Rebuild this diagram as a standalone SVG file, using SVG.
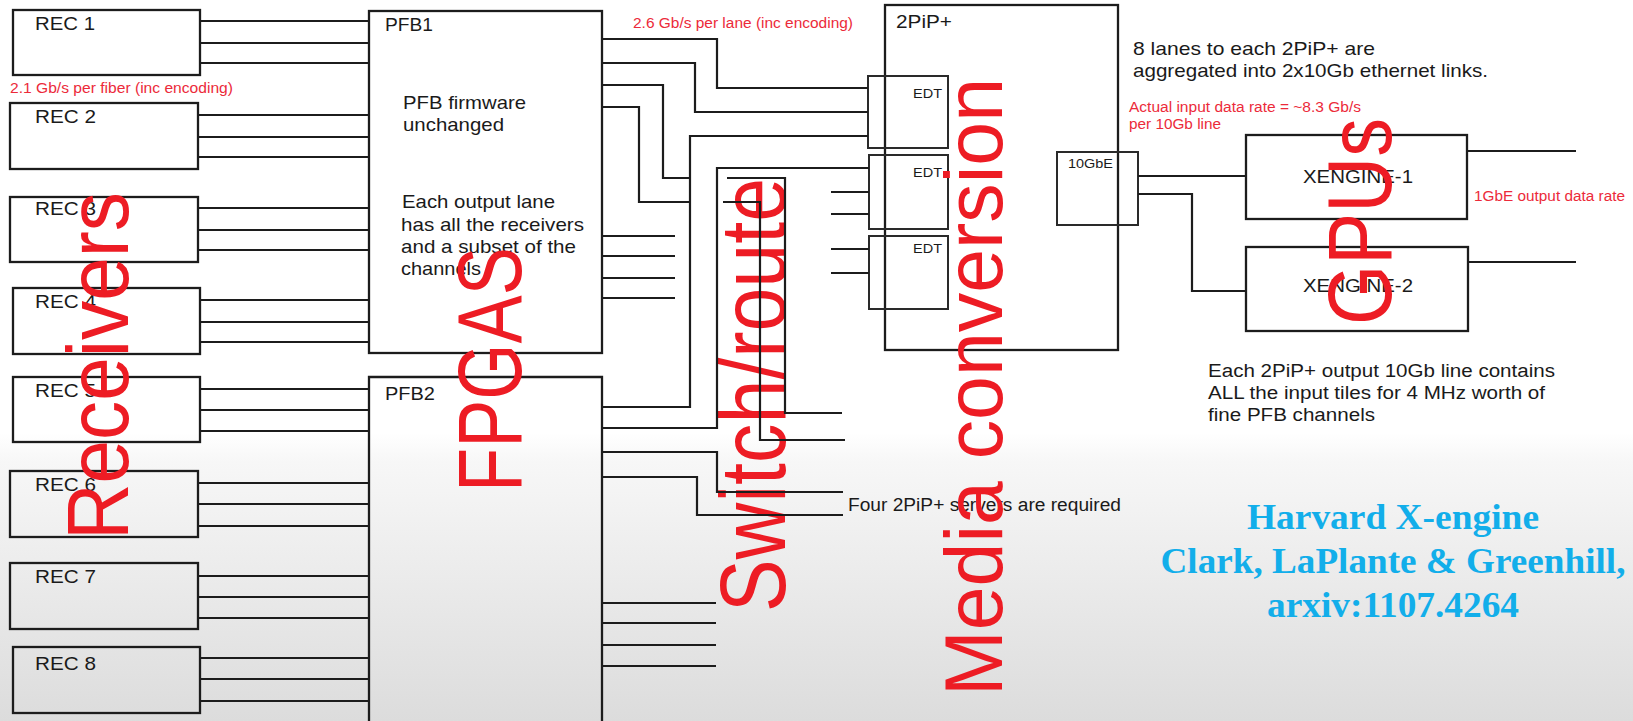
<svg xmlns="http://www.w3.org/2000/svg" width="1633" height="721" viewBox="0 0 1633 721">
<defs>
<linearGradient id="bg" x1="0" y1="0" x2="0" y2="1">
<stop offset="0" stop-color="#ffffff"/>
<stop offset="0.6" stop-color="#ffffff"/>
<stop offset="0.64" stop-color="#f7f7f7"/>
<stop offset="1" stop-color="#dcdcdc"/>
</linearGradient>
</defs>
<style>
.box{fill:none;stroke:#1c1c1c;stroke-width:2.3}
.sbox{fill:none;stroke:#2a2a2a;stroke-width:2}
.ln{fill:none;stroke:#1c1c1c;stroke-width:2.2}
.t{font-family:"Liberation Sans",Arial,sans-serif;fill:#1a1a1a}
.lbl{font-size:19px}
.sm{font-size:13px}
.red{font-family:"Liberation Sans",Arial,sans-serif;fill:#ec2a3a;font-size:14px}
.big{font-family:"Liberation Sans",Arial,sans-serif;fill:#ed1c24}
.blue{font-family:"Liberation Serif","Times New Roman",serif;font-weight:bold;fill:#12aeea;font-size:36px}
</style>
<rect x="0" y="0" width="1633" height="721" fill="url(#bg)"/>

<g id="rec1"><rect class="box" x="13" y="10" width="187" height="65"/><text class="t lbl" x="35" y="30" textLength="60" lengthAdjust="spacingAndGlyphs">REC 1</text></g>
<g id="rec2"><rect class="box" x="10" y="103" width="188" height="66"/><text class="t lbl" x="35" y="123" textLength="61" lengthAdjust="spacingAndGlyphs">REC 2</text></g>
<g id="rec3"><rect class="box" x="10" y="197" width="188" height="65"/><text class="t lbl" x="35" y="215" textLength="61" lengthAdjust="spacingAndGlyphs">REC 3</text></g>
<g id="rec4"><rect class="box" x="13" y="288" width="187" height="66"/><text class="t lbl" x="35" y="308" textLength="61" lengthAdjust="spacingAndGlyphs">REC 4</text></g>
<g id="rec5"><rect class="box" x="13" y="377" width="187" height="65"/><text class="t lbl" x="35" y="397" textLength="61" lengthAdjust="spacingAndGlyphs">REC 5</text></g>
<g id="rec6"><rect class="box" x="10" y="471" width="188" height="66"/><text class="t lbl" x="35" y="491" textLength="61" lengthAdjust="spacingAndGlyphs">REC 6</text></g>
<g id="rec7"><rect class="box" x="10" y="563" width="188" height="66"/><text class="t lbl" x="35" y="583" textLength="61" lengthAdjust="spacingAndGlyphs">REC 7</text></g>
<g id="rec8"><rect class="box" x="13" y="647" width="187" height="66"/><text class="t lbl" x="35" y="670" textLength="61" lengthAdjust="spacingAndGlyphs">REC 8</text></g>

<g id="pfb1">
<rect class="box" x="369" y="11" width="233" height="342"/>
<text class="t lbl" x="385" y="31" textLength="48" lengthAdjust="spacingAndGlyphs">PFB1</text>
<text class="t lbl" x="403" y="109" textLength="123" lengthAdjust="spacingAndGlyphs">PFB firmware</text>
<text class="t lbl" x="403" y="131" textLength="101" lengthAdjust="spacingAndGlyphs">unchanged</text>
<text class="t lbl" x="402" y="208" textLength="153" lengthAdjust="spacingAndGlyphs">Each output lane</text>
<text class="t lbl" x="401" y="231" textLength="183" lengthAdjust="spacingAndGlyphs">has all the receivers</text>
<text class="t lbl" x="401" y="253" textLength="175" lengthAdjust="spacingAndGlyphs">and a subset of the</text>
<text class="t lbl" x="401" y="275" textLength="80" lengthAdjust="spacingAndGlyphs">channels</text>
</g>
<g id="pfb2">
<path class="box" d="M369 740 V377 H602 V740"/>
<text class="t lbl" x="385" y="400" textLength="50" lengthAdjust="spacingAndGlyphs">PFB2</text>
</g>

<g id="pip2">
<rect class="box" x="885" y="5" width="233" height="345"/>
<text class="t lbl" x="896" y="28" textLength="56" lengthAdjust="spacingAndGlyphs">2PiP+</text>
</g>
<g id="edt1"><rect class="sbox" x="868" y="76" width="80" height="72"/><text class="t sm" x="913" y="98" textLength="29" lengthAdjust="spacingAndGlyphs">EDT</text></g>
<g id="edt2"><rect class="sbox" x="869" y="155" width="79" height="74"/><text class="t sm" x="913" y="177" textLength="29" lengthAdjust="spacingAndGlyphs">EDT</text></g>
<g id="edt3"><rect class="sbox" x="869" y="236" width="79" height="73"/><text class="t sm" x="913" y="253" textLength="29" lengthAdjust="spacingAndGlyphs">EDT</text></g>
<g id="tengbe"><rect class="sbox" x="1057" y="152" width="81" height="73"/><text class="t sm" x="1068" y="168" textLength="45" lengthAdjust="spacingAndGlyphs">10GbE</text></g>

<g id="xengine1"><rect class="box" x="1246" y="135" width="221" height="84"/><text class="t lbl" x="1358" y="183" text-anchor="middle" textLength="110" lengthAdjust="spacingAndGlyphs">XENGINE-1</text></g>
<g id="xengine2"><rect class="box" x="1246" y="247" width="222" height="84"/><text class="t lbl" x="1358" y="292" text-anchor="middle" textLength="110" lengthAdjust="spacingAndGlyphs">XENGINE-2</text></g>

<g id="notes">
<text class="red" x="10" y="93" textLength="223" lengthAdjust="spacingAndGlyphs">2.1 Gb/s per fiber (inc encoding)</text>
<text class="red" x="633" y="28" textLength="220" lengthAdjust="spacingAndGlyphs">2.6 Gb/s per lane (inc encoding)</text>
<text class="red" x="1129" y="112" textLength="232" lengthAdjust="spacingAndGlyphs">Actual input data rate = ~8.3 Gb/s</text>
<text class="red" x="1129" y="129" textLength="92" lengthAdjust="spacingAndGlyphs">per 10Gb line</text>
<text class="red" x="1474" y="201" textLength="151" lengthAdjust="spacingAndGlyphs">1GbE output data rate</text>
<text class="t lbl" x="1133" y="55" textLength="242" lengthAdjust="spacingAndGlyphs">8 lanes to each 2PiP+ are</text>
<text class="t lbl" x="1133" y="77" textLength="355" lengthAdjust="spacingAndGlyphs">aggregated into 2x10Gb ethernet links.</text>
<text class="t" font-size="18" x="1208" y="377" textLength="347" lengthAdjust="spacingAndGlyphs">Each 2PiP+ output 10Gb line contains</text>
<text class="t" font-size="18" x="1208" y="399" textLength="337" lengthAdjust="spacingAndGlyphs">ALL the input tiles for 4 MHz worth of</text>
<text class="t" font-size="18" x="1208" y="421" textLength="167" lengthAdjust="spacingAndGlyphs">fine PFB channels</text>
<text class="t" font-size="18" x="848" y="511" textLength="273" lengthAdjust="spacingAndGlyphs">Four 2PiP+ servers are required</text>
<text class="blue" x="1393" y="529" text-anchor="middle" textLength="292" lengthAdjust="spacingAndGlyphs">Harvard X-engine</text>
<text class="blue" x="1393" y="573" text-anchor="middle" textLength="465" lengthAdjust="spacingAndGlyphs">Clark, LaPlante &amp; Greenhill,</text>
<text class="blue" x="1393" y="617" text-anchor="middle" textLength="252" lengthAdjust="spacingAndGlyphs">arxiv:1107.4264</text>
</g>

<g id="stages">
<text class="big" font-size="88" transform="translate(128 540) rotate(-90)" textLength="348" lengthAdjust="spacingAndGlyphs">Receivers</text>
<text class="big" font-size="91" transform="translate(521 492) rotate(-90)" textLength="245" lengthAdjust="spacingAndGlyphs">FPGAS</text>
<text class="big" font-size="93" transform="translate(785 612) rotate(-90)" textLength="434" lengthAdjust="spacingAndGlyphs">Switch/route</text>
<text class="big" font-size="81" transform="translate(1002 696) rotate(-90)" textLength="618" lengthAdjust="spacingAndGlyphs">Media conversion</text>
<text class="big" font-size="91" transform="translate(1391 325) rotate(-90)" textLength="207" lengthAdjust="spacingAndGlyphs">GPUs</text>
</g>

<g id="connectors" class="ln">
<path d="M200 21H369M200 43H369M200 63H369"/>
<path d="M198 115H369M198 137H369M198 157H369"/>
<path d="M198 208H369M198 230H369M198 250H369"/>
<path d="M200 300H369M200 322H369M200 342H369"/>
<path d="M200 389H369M200 410H369M200 431H369"/>
<path d="M198 483H369M198 504H369M198 526H369"/>
<path d="M198 576H369M198 597H369M198 618H369"/>
<path d="M200 658H369M200 679H369M200 701H369"/>
<path d="M602 39H717V88H868"/>
<path d="M602 63H695V112H868"/>
<path d="M602 85H663V178H690"/>
<path d="M602 107H639V202H690"/>
<path d="M602 236H675M602 256H675M602 278H675M602 298H675"/>
<path d="M602 407H690V136H868"/>
<path d="M602 428H717V168H869"/>
<path d="M602 452H717V492H843"/>
<path d="M602 477H697V515H843"/>
<path d="M602 603H716M602 623H716M602 645H716M602 666H716"/>
<path d="M727 178H785V413H842"/>
<path d="M723 202H760V440H845"/>
<path d="M831 192H869M831 214H869"/>
<path d="M831 249H869M831 273H869"/>
<path d="M1138 176H1246"/>
<path d="M1138 194H1192V291H1246"/>
<path d="M1467 151H1576M1468 262H1576"/>
</g>
</svg>
